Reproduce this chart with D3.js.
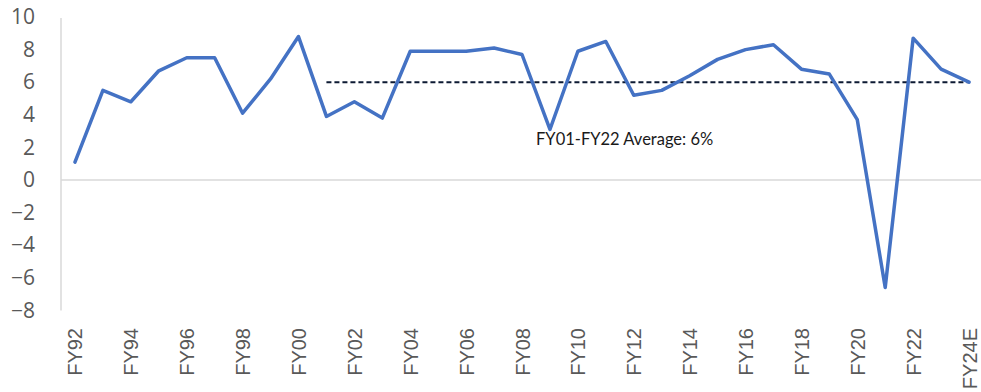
<!DOCTYPE html>
<html>
<head>
<meta charset="utf-8">
<script src="https://cdn.jsdelivr.net/npm/d3@7"></script>
<style>
  html, body { margin: 0; padding: 0; background: #fff; }
  svg { display: block; }
</style>
</head>
<body>
<svg id="chart" width="981" height="392"></svg>
<script>
// Fiscal years and real GDP growth (%)
const years = ["FY92","FY93","FY94","FY95","FY96","FY97","FY98","FY99","FY00","FY01",
  "FY02","FY03","FY04","FY05","FY06","FY07","FY08","FY09","FY10","FY11",
  "FY12","FY13","FY14","FY15","FY16","FY17","FY18","FY19","FY20","FY21",
  "FY22","FY23","FY24E"];
const growth = [1.1, 5.5, 4.8, 6.7, 7.5, 7.5, 4.1, 6.2, 8.8, 3.9,
  4.8, 3.8, 7.9, 7.9, 7.9, 8.1, 7.7, 3.1, 7.9, 8.5,
  5.2, 5.5, 6.4, 7.4, 8.0, 8.3, 6.8, 6.5, 3.7, -6.6,
  8.7, 6.8, 6.0];
const yTicks = [10, 8, 6, 4, 2, 0, -2, -4, -6, -8];
const avgValue = 6;
const avgFrom = "FY01";
const avgTo = "FY24E";
const avgLabel = "FY01-FY22 Average: 6%";

const svg = d3.select("#chart");
const plotLeft = 61, plotRight = 983, plotTop = 17, plotBottom = 310.4;

const x = d3.scalePoint().domain(years).range([plotLeft, plotRight]).padding(0.5);
const y = d3.scaleLinear().domain([-8, 10]).range([plotBottom, plotTop]);

// vertical axis line
svg.append("line")
  .attr("x1", plotLeft).attr("x2", plotLeft)
  .attr("y1", y(10) + 1).attr("y2", y(-8))
  .attr("stroke", "#d9d9d9").attr("stroke-width", 1.5);

// zero baseline
svg.append("line")
  .attr("x1", plotLeft).attr("x2", 981)
  .attr("y1", y(0)).attr("y2", y(0))
  .attr("stroke", "#d9d9d9").attr("stroke-width", 1.5);

// y tick labels
const yAxis = d3.axisLeft(y).tickValues(yTicks).tickSize(0).tickPadding(0);
const gy = svg.append("g").attr("transform", "translate(35,0)").call(yAxis);
gy.select(".domain").remove();
gy.selectAll("text")
  .attr("fill", "#595959")
  .style("font-family", "'Open Sans', sans-serif")
  .style("font-size", "21px");

// x tick labels, every other year
const xAxis = d3.axisBottom(x)
  .tickValues(years.filter((d, i) => i % 2 === 0))
  .tickSize(0).tickPadding(0);
const gx = svg.append("g").attr("transform", "translate(0,328)").call(xAxis);
gx.select(".domain").remove();
gx.selectAll("text")
  .attr("fill", "#595959")
  .attr("transform", "rotate(-90)")
  .attr("text-anchor", "end")
  .attr("x", 0).attr("y", 0).attr("dy", "0.35em")
  .style("font-family", "'Liberation Sans', Arial, sans-serif")
  .style("font-size", "20px");

// average reference line
svg.append("line")
  .attr("x1", x(avgFrom)).attr("x2", x(avgTo))
  .attr("y1", y(avgValue)).attr("y2", y(avgValue))
  .attr("stroke", "#0d1a33").attr("stroke-width", 2)
  .attr("stroke-dasharray", "5,3");

// growth line
const line = d3.line().x((d, i) => x(years[i])).y(d => y(d));
svg.append("path")
  .datum(growth)
  .attr("d", line)
  .attr("fill", "none")
  .attr("stroke", "#4472c4")
  .attr("stroke-width", 3.5)
  .attr("stroke-linejoin", "round")
  .attr("stroke-linecap", "round");

// average annotation
svg.append("text")
  .attr("x", 536).attr("y", 145)
  .attr("fill", "#1a1a1a")
  .style("font-family", "Lato, sans-serif")
  .style("font-size", "16.5px")
  .text(avgLabel);
</script>
</body>
</html>
